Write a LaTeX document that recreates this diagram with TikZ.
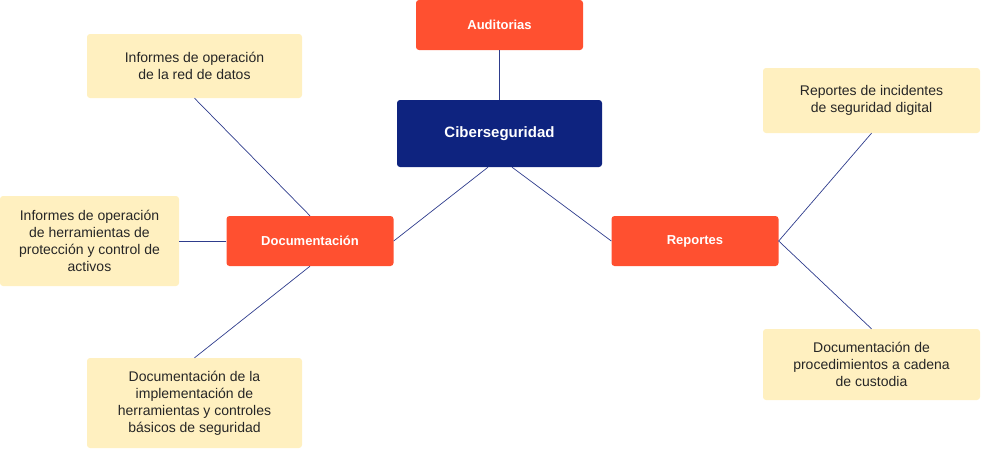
\documentclass[tikz,border=0pt]{standalone}
\usepackage{fontspec}
\setmainfont{Liberation Sans}
\definecolor{orangebox}{HTML}{FF5030}
\definecolor{navybox}{HTML}{0E237F}
\definecolor{yellowbox}{HTML}{FFF0C0}
\definecolor{linkcol}{HTML}{2E3C8C}
\tikzset{
  base/.style={rounded corners=3pt, inner sep=0pt, align=center, anchor=center},
  mainbox/.style={base, fill=orangebox, text=white, font=\fontsize{13}{16}\selectfont\bfseries},
  rootbox/.style={base, fill=navybox, text=white, font=\fontsize{15}{18}\selectfont\bfseries},
  leafbox/.style={base, fill=yellowbox, text=black!85, font=\fontsize{14}{17}\selectfont},
  link/.style={draw=linkcol, line width=0.7pt}
}
\begin{document}
\begin{tikzpicture}[x=1pt,y=-1pt]
\useasboundingbox (0,0) rectangle (981,450);
% main nodes
\node[mainbox, minimum width=167pt, minimum height=50pt] (aud) at (499.5,25) {Auditorias};
\node[rootbox, minimum width=205pt, minimum height=67pt] (cib) at (499.5,133.5) {\raisebox{-1.5pt}{Ciberseguridad}};
\node[mainbox, minimum width=167pt, minimum height=50pt] (doc) at (310,241) {Documentación};
\node[mainbox, minimum width=167pt, minimum height=50pt] (rep) at (695,241) {Reportes};
% leaves
\node[leafbox, minimum width=215pt, minimum height=64pt] (inf1) at (194.5,66) {Informes de operación\\de la red de datos};
\node[leafbox, minimum width=179pt, minimum height=90pt] (inf2) at (89.5,241) {Informes de operación\\de herramientas de\\protección y control de\\activos};
\node[leafbox, minimum width=215pt, minimum height=90pt] (impl) at (194.5,403) {Documentación de la\\implementación de\\herramientas y controles\\básicos de seguridad};
\node[leafbox, minimum width=217pt, minimum height=65pt] (inc) at (871.5,100.5) {Reportes de incidentes\\de seguridad digital};
\node[leafbox, minimum width=217pt, minimum height=71pt] (proc) at (871.5,364.5) {Documentación de\\procedimientos a cadena\\de custodia};
% connectors
\coordinate (cibL) at ([xshift=-11.5pt]cib.south);
\coordinate (cibR) at ([xshift=12.5pt]cib.south);
\draw[link] (aud.south) -- (cib.north);
\draw[link] (cibL) -- (doc.east);
\draw[link] (cibR) -- (rep.west);
\draw[link] (doc.north) -- (inf1.south);
\draw[link] (doc.west) -- (inf2.east);
\draw[link] (doc.south) -- (impl.north);
\draw[link] (rep.east) -- (inc.south);
\draw[link] (rep.east) -- (proc.north);
\end{tikzpicture}
\end{document}
